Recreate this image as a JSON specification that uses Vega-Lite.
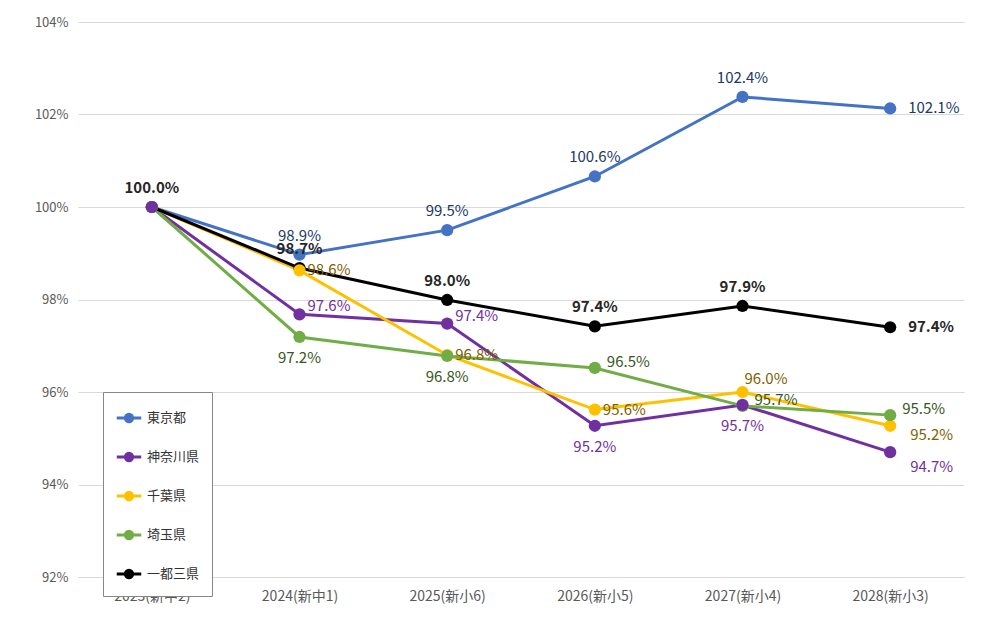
{
"$schema":"https://vega.github.io/schema/vega-lite/v6.json",
"width":886,"height":555,"padding":{"left":78,"top":22,"right":24,"bottom":57},
"autosize":"none",
"config":{"font":"Noto Sans CJK JP","view":{"stroke":null}},
"data":{"values":[
{"year":"2023(新中2)","series":"東京都","value":100,"label":"100.0%"},
{"year":"2024(新中1)","series":"東京都","value":98.97,"label":"98.9%"},
{"year":"2025(新小6)","series":"東京都","value":99.5,"label":"99.5%"},
{"year":"2026(新小5)","series":"東京都","value":100.66,"label":"100.6%"},
{"year":"2027(新小4)","series":"東京都","value":102.38,"label":"102.4%"},
{"year":"2028(新小3)","series":"東京都","value":102.13,"label":"102.1%"},
{"year":"2023(新中2)","series":"神奈川県","value":100,"label":"100.0%"},
{"year":"2024(新中1)","series":"神奈川県","value":97.68,"label":"97.6%"},
{"year":"2025(新小6)","series":"神奈川県","value":97.48,"label":"97.4%"},
{"year":"2026(新小5)","series":"神奈川県","value":95.27,"label":"95.2%"},
{"year":"2027(新小4)","series":"神奈川県","value":95.72,"label":"95.7%"},
{"year":"2028(新小3)","series":"神奈川県","value":94.7,"label":"94.7%"},
{"year":"2023(新中2)","series":"千葉県","value":100,"label":"100.0%"},
{"year":"2024(新中1)","series":"千葉県","value":98.63,"label":"98.6%"},
{"year":"2025(新小6)","series":"千葉県","value":96.8,"label":"96.8%"},
{"year":"2026(新小5)","series":"千葉県","value":95.62,"label":"95.6%"},
{"year":"2027(新小4)","series":"千葉県","value":96.0,"label":"96.0%"},
{"year":"2028(新小3)","series":"千葉県","value":95.27,"label":"95.2%"},
{"year":"2023(新中2)","series":"埼玉県","value":100,"label":"100.0%"},
{"year":"2024(新中1)","series":"埼玉県","value":97.19,"label":"97.2%"},
{"year":"2025(新小6)","series":"埼玉県","value":96.78,"label":"96.8%"},
{"year":"2026(新小5)","series":"埼玉県","value":96.52,"label":"96.5%"},
{"year":"2027(新小4)","series":"埼玉県","value":95.7,"label":"95.7%"},
{"year":"2028(新小3)","series":"埼玉県","value":95.5,"label":"95.5%"},
{"year":"2023(新中2)","series":"一都三県","value":100,"label":"100.0%"},
{"year":"2024(新中1)","series":"一都三県","value":98.68,"label":"98.7%"},
{"year":"2025(新小6)","series":"一都三県","value":97.99,"label":"98.0%"},
{"year":"2026(新小5)","series":"一都三県","value":97.42,"label":"97.4%"},
{"year":"2027(新小4)","series":"一都三県","value":97.86,"label":"97.9%"},
{"year":"2028(新小3)","series":"一都三県","value":97.4,"label":"97.4%"}
]},
"transform":[{"calculate":"datum.series + '|' + slice(datum.year,0,4)","as":"key"}],
"encoding":{
"x":{"field":"year","type":"ordinal","scale":{"type":"point","padding":0.5},"sort":null,
"axis":{"title":null,"labelAngle":0,"labelFontSize":14,"labelColor":"#595959","domainColor":"#d9d9d9","ticks":false,"labelPadding":12,"grid":false}},
"y":{"field":"value","type":"quantitative","scale":{"domain":[92,104]},
"axis":{"title":null,"values":[92,94,96,98,100,102,104],"labelExpr":"datum.value + '%'","labelFontSize":13,"labelColor":"#595959","domain":false,"ticks":false,"gridColor":"#d9d9d9","labelPadding":10}}
},
"layer":[
{"mark":{"type":"line","strokeWidth":3,"point":{"size":150,"filled":true,"opacity":1}},
"encoding":{"color":{"field":"series","type":"nominal","sort":["東京都","神奈川県","千葉県","埼玉県","一都三県"],
"scale":{"domain":["東京都","神奈川県","千葉県","埼玉県","一都三県"],"range":["#4472C4","#7030A0","#FFC000","#70AD47","#000000"]},
"legend":{"orient":"none","legendX":25,"legendY":370,"title":null,"labelFontSize":13,"labelColor":"#333333",
"symbolType":"M-1,0L1,0M-0.3,0a0.3,0.3 0 1,0 0.6,0a0.3,0.3 0 1,0 -0.6,0","symbolSize":600,"symbolStrokeWidth":3,
"rowPadding":15,"padding":12,"strokeColor":"#888888","fillColor":"white","labelOffset":4}},
"order":{"field":"series"}}},
{"transform":[{"filter":"indexof(['東京都|2024','東京都|2025','東京都|2026','東京都|2027'], datum.key) >= 0"}],
"mark":{"type":"text","dy":-19,"fontSize":15,"fill":"#203864"},"encoding":{"text":{"field":"label"}}},
{"transform":[{"filter":"indexof(['東京都|2028'], datum.key) >= 0"}],
"mark":{"type":"text","dx":18,"align":"left","fontSize":15,"fill":"#203864"},"encoding":{"text":{"field":"label"}}},
{"transform":[{"filter":"indexof(['神奈川県|2024','神奈川県|2025'], datum.key) >= 0"}],
"mark":{"type":"text","dx":8,"dy":-8,"align":"left","fontSize":15,"fill":"#7030A0"},"encoding":{"text":{"field":"label"}}},
{"transform":[{"filter":"indexof(['神奈川県|2026','神奈川県|2027'], datum.key) >= 0"}],
"mark":{"type":"text","dy":21,"fontSize":15,"fill":"#7030A0"},"encoding":{"text":{"field":"label"}}},
{"transform":[{"filter":"indexof(['神奈川県|2028'], datum.key) >= 0"}],
"mark":{"type":"text","dx":20,"dy":15,"align":"left","fontSize":15,"fill":"#7030A0"},"encoding":{"text":{"field":"label"}}},
{"transform":[{"filter":"indexof(['千葉県|2024','千葉県|2025','千葉県|2026'], datum.key) >= 0"}],
"mark":{"type":"text","dx":8,"dy":0,"align":"left","fontSize":15,"fill":"#7F6000"},"encoding":{"text":{"field":"label"}}},
{"transform":[{"filter":"indexof(['千葉県|2027'], datum.key) >= 0"}],
"mark":{"type":"text","dx":2,"dy":-13,"align":"left","fontSize":15,"fill":"#7F6000"},"encoding":{"text":{"field":"label"}}},
{"transform":[{"filter":"indexof(['千葉県|2028'], datum.key) >= 0"}],
"mark":{"type":"text","dx":20,"dy":9,"align":"left","fontSize":15,"fill":"#7F6000"},"encoding":{"text":{"field":"label"}}},
{"transform":[{"filter":"indexof(['埼玉県|2024','埼玉県|2025'], datum.key) >= 0"}],
"mark":{"type":"text","dy":21,"fontSize":15,"fill":"#375623"},"encoding":{"text":{"field":"label"}}},
{"transform":[{"filter":"indexof(['埼玉県|2026','埼玉県|2027','埼玉県|2028'], datum.key) >= 0"}],
"mark":{"type":"text","dx":12,"dy":-6,"align":"left","fontSize":15,"fill":"#375623"},"encoding":{"text":{"field":"label"}}},
{"transform":[{"filter":"indexof(['一都三県|2023','一都三県|2024','一都三県|2025','一都三県|2026','一都三県|2027'], datum.key) >= 0"}],
"mark":{"type":"text","dy":-19,"fontSize":15,"fontWeight":"bold","fill":"#262626"},"encoding":{"text":{"field":"label"}}},
{"transform":[{"filter":"indexof(['一都三県|2028'], datum.key) >= 0"}],
"mark":{"type":"text","dx":18,"align":"left","fontSize":15,"fontWeight":"bold","fill":"#262626"},"encoding":{"text":{"field":"label"}}}
]
}
